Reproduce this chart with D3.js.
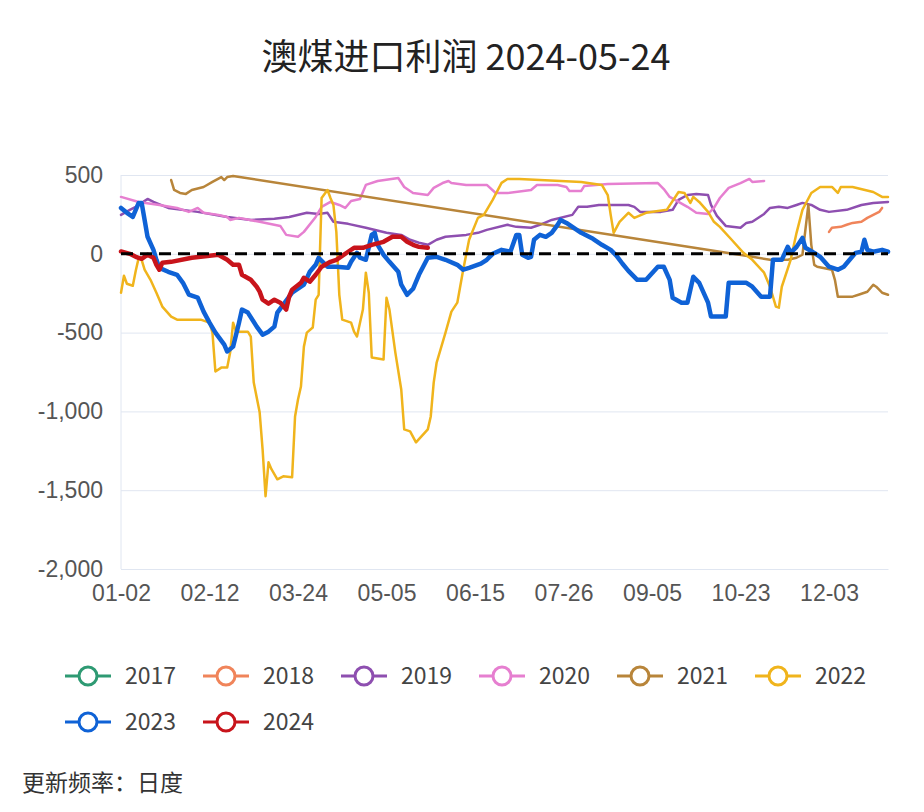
<!DOCTYPE html>
<html>
<head>
<meta charset="utf-8">
<script src="https://cdn.jsdelivr.net/npm/d3@7"></script>
<style>
  body { margin: 0; background: #fff; }
  svg { display: block; font-family: "Noto Sans CJK SC", "Noto Sans", sans-serif; }
</style>
</head>
<body>
<svg></svg>
<script>
// x is the trading-day index of the year (0 = 01-02), y is profit
const tickLabels = ["01-02", "02-12", "03-24", "05-05", "06-15", "07-26", "09-05", "10-23", "12-03"];
const tickIndex = [0, 30, 60, 90, 120, 150, 180, 210, 240];
const lastIndex = 260;
const yTicks = [500, 0, -500, -1000, -1500, -2000];

const years = ["2017", "2018", "2019", "2020", "2021", "2022", "2023", "2024"];
const colors = ["#2e9a73", "#f0845a", "#8e4fb0", "#e67fd0", "#b8853a", "#f0b41c", "#0f62d6", "#c8141b"];

const s2017 = [];

const s2018 = [[240,139],[241,165],[244,171],[246,184],[248,196],[251,203],[253,228],[255,247],[257,266],[258,291]];

const s2019 = [[0,247],[3,279],[5,298],[7,323],[9,348],[11,329],[16,291],[26,266],[36,234],[44,215],[52,222],[57,234],
  [63,260],[67,253],[70,260],[72,203],[77,190],[83,165],[90,133],[95,120],[98,89],[101,70],[104,57],[107,89],[110,108],
  [117,120],[121,133],[124,152],[131,184],[134,171],[139,165],[142,184],[146,215],[153,247],[155,298],[158,298],[162,310],
  [172,310],[174,298],[176,266],[183,266],[187,279],[189,342],[192,373],[195,380],[199,373],[200,310],[202,241],[205,177],
  [210,165],[212,196],[214,203],[218,253],[220,291],[223,298],[226,291],[229,310],[231,323],[234,310],[237,279],[240,266],
  [246,279],[251,310],[255,323],[260,329]];

const s2020 = [[0,361],[6,329],[13,310],[19,291],[23,266],[26,291],[28,260],[33,247],[36,234],[37,215],[40,228],[47,203],
  [54,177],[56,120],[60,108],[62,139],[66,234],[68,298],[71,329],[74,310],[76,291],[78,335],[81,348],[83,437],[87,462],
  [94,481],[96,424],[99,386],[104,373],[106,418],[109,449],[111,462],[112,449],[117,437],[124,437],[127,386],[131,386],
  [139,405],[141,437],[148,437],[151,424],[152,399],[156,399],[157,430],[165,443],[182,449],[184,411],[186,361],[189,329],
  [192,298],[195,260],[199,253],[201,291],[203,354],[206,418],[210,449],[213,475],[214,456],[218,462]];

const s2021 = [[17,468],[18,405],[20,386],[22,380],[24,405],[28,424],[31,456],[34,487],[35,468],[36,487],[38,494],
  [214,-19],[220,-38],[226,-38],[229,-25],[231,-6],[233,310],[234,57],[235,-70],[236,-82],[241,-101],[242,-165],[243,-272],
  [245,-272],[248,-272],[250,-260],[253,-241],[255,-196],[256,-209],[258,-247],[260,-260]];

const s2022 = [[0,-247],[1,-139],[2,-190],[4,-203],[5,-108],[6,-25],[7,-38],[8,-101],[10,-165],[12,-247],[14,-335],[17,-399],
  [19,-418],[27,-418],[30,-437],[31,-500],[32,-747],[34,-722],[36,-722],[37,-627],[38,-437],[39,-494],[43,-494],[44,-525],
  [45,-817],[47,-1006],[48,-1241],[49,-1538],[50,-1323],[51,-1367],[53,-1431],[55,-1412],[58,-1418],[59,-1032],[60,-924],
  [61,-842],[62,-589],[63,-500],[65,-468],[66,-291],[67,-260],[68,354],[70,405],[71,354],[72,310],[73,139],[74,-260],
  [75,-418],[78,-437],[79,-494],[80,-525],[82,-354],[83,-120],[84,-247],[85,-658],[89,-671],[90,-279],[91,-354],[93,-627],
  [95,-861],[96,-1114],[98,-1127],[100,-1196],[104,-1114],[105,-1032],[106,-817],[107,-690],[110,-500],[112,-367],
  [114,-310],[116,-101],[117,-6],[118,89],[121,228],[123,247],[126,342],[129,450],[131,475],[135,475],[156,456],[163,437],
  [165,373],[166,247],[167,133],[169,203],[172,260],[174,228],[178,260],[185,279],[189,392],[191,386],[193,323],[194,361],
  [196,329],[199,266],[201,203],[203,171],[207,89],[211,6],[214,-38],[218,-120],[220,-209],[222,-335],[223,-342],[224,-209],
  [227,-38],[229,133],[231,279],[234,386],[237,424],[241,424],[243,386],[244,424],[248,424],[255,392],[258,361],[260,361]];

const s2023 = [[0,291],[2,260],[4,234],[6,323],[7,323],[8,215],[9,108],[11,25],[12,-38],[13,-89],[16,-114],[19,-133],
  [21,-184],[23,-259],[26,-278],[28,-367],[30,-437],[32,-500],[35,-576],[36,-620],[38,-589],[40,-437],[41,-354],[43,-373],
  [46,-462],[48,-513],[50,-494],[52,-462],[53,-373],[55,-323],[58,-247],[62,-196],[64,-114],[66,-70],[67,-25],[70,-82],
  [73,-82],[77,-89],[78,-51],[80,6],[81,-25],[83,-38],[85,120],[86,133],[87,57],[89,-6],[91,-51],[94,-114],[95,-196],
  [97,-260],[99,-222],[101,-133],[104,-25],[107,-19],[110,-38],[114,-70],[116,-101],[118,-89],[122,-63],[124,-38],[126,0],
  [129,25],[132,13],[134,120],[135,120],[136,-6],[138,-25],[139,-19],[140,89],[142,120],[144,108],[146,133],[148,184],
  [149,215],[151,196],[153,171],[156,133],[160,95],[163,57],[166,25],[168,-13],[170,-63],[172,-108],[175,-165],[178,-165],
  [182,-82],[184,-82],[186,-165],[187,-279],[190,-310],[192,-310],[194,-146],[196,-184],[199,-310],[200,-398],[205,-398],
  [206,-184],[212,-184],[214,-209],[217,-272],[220,-272],[221,-38],[224,-38],[226,44],[227,6],[229,44],[231,101],[232,38],
  [235,6],[237,-19],[240,-82],[243,-101],[245,-82],[247,-38],[249,6],[251,13],[252,89],[253,25],[255,13],[258,25],[260,13]];

const s2024 = [[0,15],[3,0],[5,-19],[7,-32],[9,-6],[11,-25],[12,-70],[13,-101],[14,-57],[17,-51],[24,-25],[33,-6],[36,-38],
  [38,-70],[40,-70],[41,-133],[44,-165],[46,-209],[47,-240],[48,-291],[50,-316],[52,-291],[54,-310],[56,-354],[57,-272],
  [58,-228],[61,-184],[62,-152],[64,-177],[66,-133],[68,-82],[71,-51],[73,-38],[77,13],[79,38],[82,38],[85,57],[89,76],
  [92,108],[95,108],[97,76],[99,57],[101,44],[104,38]];

const seriesData = [s2017, s2018, s2019, s2020, s2021, s2022, s2023, s2024];
const lineWidths = [2.5, 2.5, 2.5, 2.5, 2.5, 2.5, 4.5, 4.5];

const W = 924, H = 812;
const margin = {top: 175, right: 36, bottom: 243, left: 121},
      width = W - margin.left - margin.right,
      height = H - margin.top - margin.bottom;

const root = d3.select("svg").attr("width", W).attr("height", H);

root.append("text")
    .attr("x", 466)
    .attr("y", 70)
    .attr("text-anchor", "middle")
    .style("font-size", "36px")
    .style("fill", "#222")
    .text("澳煤进口利润 2024-05-24");

const svg = root.append("g")
    .attr("transform", `translate(${margin.left},${margin.top})`);

const x = d3.scaleLinear().domain([0, lastIndex]).range([0, width]);
const y = d3.scaleLinear().domain([-2000, 500]).range([height, 0]);

const fmt = d3.formatLocale({decimal: ".", thousands: ",", grouping: [3], currency: ["", ""], minus: "-"}).format(",");

// y axis + grid
const yAxis = svg.append("g")
    .call(d3.axisLeft(y).tickValues(yTicks).tickFormat(fmt).tickSize(-width).tickPadding(18));
yAxis.select(".domain").remove();
yAxis.selectAll("line").style("stroke", "#e0e6f1");
yAxis.selectAll("text").style("font-size", "23px").style("fill", "#555");

svg.append("line")
    .attr("x1", 0).attr("x2", 0).attr("y1", 0).attr("y2", height)
    .style("stroke", "#e0e6f1");

// x axis
const xAxis = svg.append("g")
    .attr("transform", `translate(0,${height})`)
    .call(d3.axisBottom(x).tickValues(tickIndex).tickFormat((d, i) => tickLabels[i]).tickSize(0).tickPadding(16));
xAxis.select(".domain").style("stroke", "#e0e6f1");
xAxis.selectAll("text").style("font-size", "23px").style("fill", "#555");

// lines
const line = d3.line()
    .x(d => x(d[0]))
    .y(d => y(d[1]));

seriesData.forEach((s, k) => {
    if (s.length === 0) return;
    svg.append("path")
        .datum(s)
        .attr("d", line)
        .style("fill", "none")
        .style("stroke", colors[k])
        .style("stroke-width", lineWidths[k])
        .style("stroke-linejoin", "round")
        .style("stroke-linecap", "round");
});

// zero line
svg.append("line")
    .attr("x1", 0).attr("x2", width)
    .attr("y1", y(0)).attr("y2", y(0))
    .style("stroke", "#000")
    .style("stroke-width", 3)
    .style("stroke-dasharray", "12,7");

// legend
const legend = root.selectAll(".legend")
    .data(years)
    .enter().append("g")
    .attr("class", "legend")
    .attr("transform", (d, i) => `translate(${88 + (i % 6) * 138},${676 + Math.floor(i / 6) * 46})`);

legend.append("line")
    .attr("x1", -23).attr("x2", 23)
    .style("stroke", (d, i) => colors[i])
    .style("stroke-width", 3);

legend.append("circle")
    .attr("r", 9)
    .style("fill", "#fff")
    .style("stroke", (d, i) => colors[i])
    .style("stroke-width", 3);

legend.append("text")
    .attr("x", 37)
    .attr("y", 8)
    .style("font-size", "23px")
    .style("fill", "#444")
    .text(d => d);

root.append("text")
    .attr("x", 22)
    .attr("y", 791)
    .style("font-size", "23px")
    .style("fill", "#333")
    .text("更新频率：日度");
</script>
</body>
</html>
